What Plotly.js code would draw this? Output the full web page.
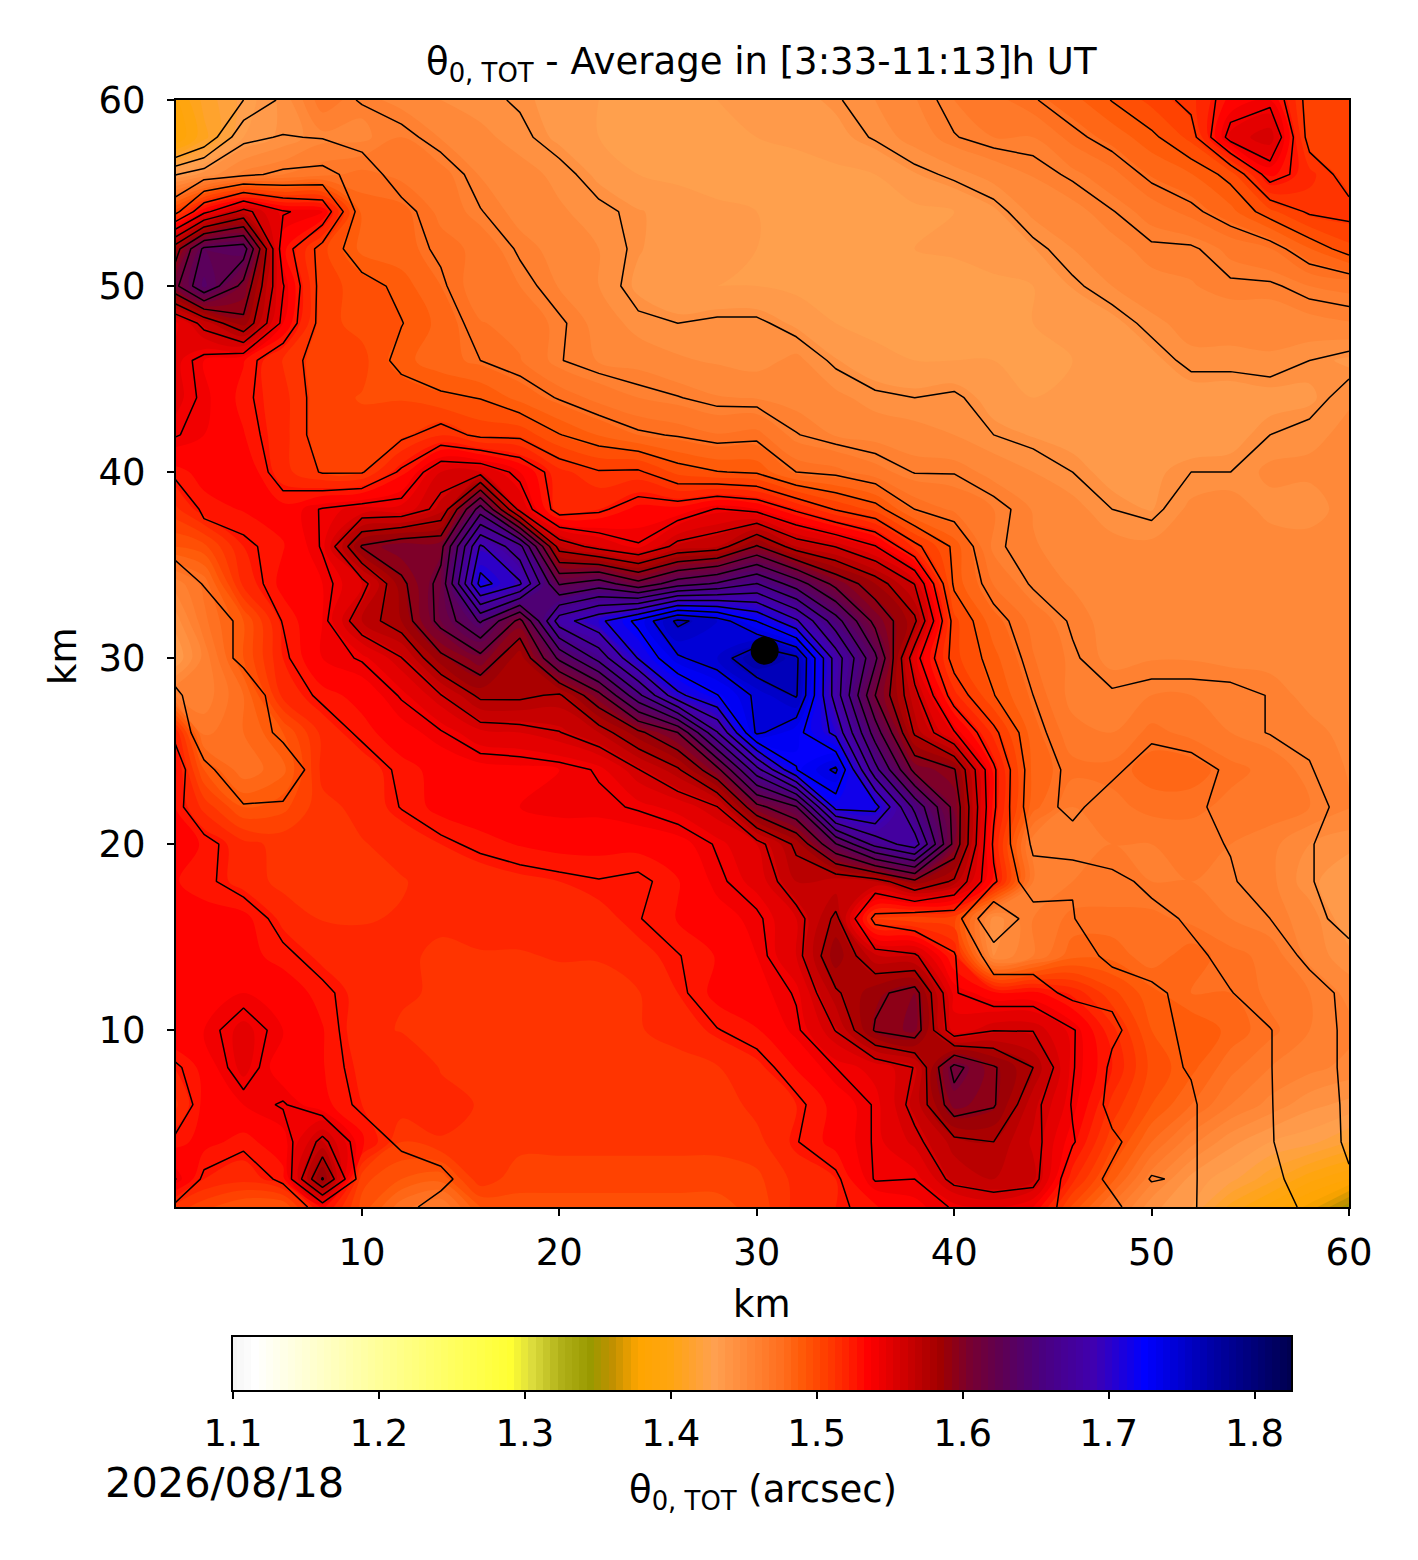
<!DOCTYPE html>
<html><head><meta charset="utf-8">
<script src="https://cdn.plot.ly/plotly-3.0.1.min.js"></script>
<style>html,body{margin:0;padding:0;background:#fff}</style></head>
<body><div id="chart" style="width:1418px;height:1560px"></div>
<script>
const xKm = [0.5,2,4,6,8,10,12,14,16,18,20,22,24,26,28,30,32,34,36,38,40,42,44,46,48,50,52,54,56,58,60];
const yKm = [60,58,56,54,52,50,48,46,44,42,40,38,36,34,32,30,28,26,24,22,20,18,16,14,12,10,8,6,4,2,0.5];
const contourStart = 1.44, contourStep = 0.0165, contourEnd = 1.78;
const seeingGrid = [
[1.42,1.425,1.44,1.46,1.465,1.455,1.45,1.445,1.442,1.439, 1.435,1.43,1.425,1.43,1.43,1.432,1.435,1.439,1.445,1.452, 1.46,1.465,1.472,1.48,1.49,1.5,1.51,1.53,1.535,1.50, 1.505],
[1.40,1.425,1.47,1.474,1.472,1.467,1.46,1.452,1.447,1.442, 1.436,1.43,1.428,1.427,1.428,1.43,1.432,1.435,1.441,1.448, 1.456,1.46,1.46,1.47,1.478,1.487,1.50,1.545,1.555,1.50, 1.50],
[1.472,1.482,1.487,1.492,1.495,1.482,1.465,1.463,1.452,1.448, 1.443,1.436,1.43,1.428,1.426,1.425,1.426,1.428,1.43,1.437, 1.442,1.448,1.453,1.458,1.465,1.476,1.482,1.493,1.53,1.515, 1.50],
[1.50,1.535,1.56,1.54,1.535,1.48,1.478,1.465,1.457,1.45, 1.446,1.442,1.438,1.435,1.432,1.43,1.428,1.427,1.427,1.428, 1.43,1.436,1.447,1.45,1.456,1.463,1.47,1.48,1.495,1.508, 1.51],
[1.58,1.625,1.63,1.53,1.50,1.48,1.478,1.471,1.465,1.455, 1.45,1.445,1.438,1.434,1.431,1.43,1.428,1.427,1.428,1.43, 1.431,1.434,1.437,1.445,1.45,1.455,1.455,1.462,1.467,1.482, 1.495],
[1.60,1.635,1.60,1.54,1.50,1.495,1.486,1.475,1.462,1.46, 1.452,1.445,1.436,1.43,1.43,1.43,1.428,1.425,1.425,1.425, 1.427,1.428,1.43,1.438,1.445,1.45,1.452,1.455,1.455,1.46, 1.462],
[1.54,1.56,1.585,1.535,1.50,1.495,1.49,1.48,1.468,1.465, 1.458,1.45,1.442,1.44,1.442,1.442,1.436,1.43,1.428,1.428, 1.427,1.428,1.43,1.432,1.435,1.443,1.448,1.448,1.448,1.45, 1.452],
[1.545,1.535,1.528,1.512,1.50,1.50,1.485,1.478,1.473,1.468, 1.457,1.452,1.45,1.446,1.444,1.442,1.447,1.438,1.432,1.43, 1.43,1.43,1.43,1.43,1.432,1.435,1.443,1.443,1.444,1.44, 1.436],
[1.545,1.537,1.525,1.515,1.50,1.497,1.497,1.492,1.489,1.48, 1.472,1.465,1.46,1.457,1.453,1.452,1.45,1.447,1.442,1.44, 1.442,1.434,1.43,1.432,1.433,1.433,1.433,1.433,1.435,1.436, 1.444],
[1.54,1.535,1.528,1.515,1.50,1.50,1.503,1.512,1.503,1.503, 1.49,1.482,1.475,1.472,1.468,1.47,1.457,1.452,1.45,1.448, 1.445,1.44,1.437,1.435,1.433,1.433,1.433,1.435,1.44,1.443, 1.447],
[1.525,1.53,1.535,1.515,1.505,1.505,1.525,1.55,1.55,1.535, 1.515,1.507,1.508,1.495,1.49,1.488,1.473,1.47,1.463,1.456, 1.456,1.45,1.445,1.44,1.435,1.436,1.44,1.44,1.447,1.447, 1.45],
[1.51,1.525,1.528,1.53,1.54,1.545,1.545,1.56,1.63,1.55, 1.515,1.52,1.53,1.53,1.54,1.535,1.52,1.505,1.495,1.473, 1.466,1.46,1.452,1.448,1.44,1.437,1.447,1.45,1.442,1.44, 1.45],
[1.512,1.515,1.52,1.527,1.54,1.59,1.60,1.60,1.69,1.66, 1.565,1.55,1.54,1.56,1.565,1.59,1.565,1.555,1.54,1.51, 1.487,1.458,1.453,1.45,1.448,1.447,1.45,1.45,1.45,1.45, 1.452],
[1.495,1.507,1.515,1.53,1.535,1.55,1.585,1.61,1.71,1.69, 1.62,1.63,1.61,1.63,1.64,1.655,1.63,1.60,1.58,1.555, 1.487,1.467,1.455,1.452,1.45,1.45,1.45,1.45,1.45,1.45, 1.452],
[1.495,1.495,1.51,1.523,1.535,1.565,1.58,1.61,1.64,1.60, 1.68,1.70,1.725,1.757,1.745,1.72,1.69,1.645,1.60,1.575, 1.50,1.478,1.465,1.455,1.45,1.45,1.45,1.45,1.45,1.45, 1.45],
[1.495,1.495,1.51,1.52,1.535,1.54,1.555,1.585,1.60,1.575, 1.625,1.66,1.705,1.735,1.745,1.768,1.757,1.68,1.625,1.545, 1.50,1.485,1.468,1.458,1.45,1.452,1.452,1.45,1.45,1.45, 1.45],
[1.51,1.495,1.495,1.515,1.525,1.53,1.54,1.555,1.575,1.575, 1.57,1.60,1.65,1.70,1.72,1.74,1.755,1.68,1.605,1.56, 1.515,1.49,1.473,1.457,1.458,1.46,1.46,1.46,1.456,1.45, 1.447],
[1.52,1.495,1.495,1.51,1.515,1.525,1.532,1.538,1.548,1.55, 1.555,1.565,1.585,1.605,1.67,1.74,1.725,1.70,1.63,1.57, 1.54,1.51,1.478,1.463,1.46,1.47,1.465,1.46,1.456,1.455, 1.45],
[1.53,1.51,1.495,1.495,1.515,1.515,1.525,1.53,1.532,1.533, 1.535,1.54,1.555,1.57,1.60,1.665,1.72,1.74,1.66,1.60, 1.59,1.525,1.48,1.47,1.47,1.48,1.48,1.47,1.465,1.457, 1.452],
[1.528,1.51,1.507,1.508,1.51,1.515,1.523,1.53,1.532,1.535, 1.537,1.537,1.54,1.545,1.555,1.60,1.62,1.71,1.71,1.65, 1.60,1.525,1.478,1.47,1.48,1.482,1.475,1.47,1.465,1.46, 1.453],
[1.53,1.527,1.515,1.51,1.51,1.512,1.515,1.52,1.525,1.528, 1.53,1.53,1.53,1.532,1.54,1.55,1.575,1.62,1.66,1.68, 1.60,1.52,1.487,1.478,1.478,1.478,1.478,1.472,1.462,1.458, 1.445],
[1.528,1.525,1.517,1.51,1.51,1.512,1.512,1.515,1.515,1.518, 1.52,1.522,1.52,1.527,1.537,1.545,1.565,1.56,1.565,1.585, 1.57,1.525,1.495,1.505,1.495,1.485,1.48,1.475,1.463,1.458, 1.445],
[1.53,1.53,1.53,1.518,1.512,1.512,1.513,1.513,1.515,1.515, 1.517,1.518,1.522,1.528,1.532,1.537,1.55,1.575,1.535,1.53, 1.53,1.49,1.515,1.507,1.49,1.495,1.487,1.477,1.473,1.462, 1.45],
[1.532,1.533,1.53,1.525,1.518,1.515,1.513,1.512,1.512,1.512, 1.513,1.513,1.518,1.522,1.528,1.535,1.55,1.585,1.56,1.557, 1.54,1.515,1.515,1.518,1.50,1.497,1.493,1.485,1.48,1.47, 1.462],
[1.53,1.535,1.535,1.532,1.525,1.517,1.513,1.512,1.51,1.508, 1.51,1.51,1.512,1.52,1.53,1.532,1.54,1.57,1.585,1.595, 1.54,1.53,1.53,1.518,1.52,1.51,1.50,1.49,1.483,1.478, 1.47],
[1.535,1.535,1.545,1.535,1.528,1.515,1.512,1.51,1.508,1.508, 1.51,1.51,1.512,1.515,1.522,1.527,1.537,1.556,1.59,1.597, 1.545,1.555,1.555,1.54,1.525,1.515,1.50,1.495,1.49,1.48, 1.47],
[1.52,1.53,1.545,1.53,1.528,1.518,1.52,1.512,1.51,1.508, 1.508,1.508,1.51,1.51,1.512,1.518,1.528,1.539,1.545,1.556, 1.61,1.59,1.572,1.54,1.52,1.51,1.505,1.50,1.49,1.48, 1.47],
[1.51,1.53,1.535,1.54,1.53,1.52,1.517,1.515,1.512,1.51, 1.508,1.508,1.508,1.508,1.508,1.515,1.52,1.53,1.54,1.56, 1.598,1.59,1.56,1.538,1.518,1.51,1.508,1.495,1.49,1.483, 1.47],
[1.525,1.53,1.525,1.532,1.56,1.53,1.52,1.512,1.51,1.508, 1.508,1.508,1.508,1.508,1.508,1.51,1.522,1.53,1.54,1.552, 1.568,1.572,1.56,1.54,1.525,1.515,1.508,1.495,1.49,1.485, 1.47],
[1.54,1.52,1.515,1.525,1.59,1.53,1.53,1.528,1.51,1.508, 1.508,1.508,1.508,1.508,1.508,1.51,1.515,1.52,1.54,1.539, 1.56,1.565,1.56,1.53,1.52,1.505,1.508,1.495,1.492,1.485, 1.475],
[1.52,1.52,1.51,1.51,1.53,1.525,1.528,1.515,1.51,1.508, 1.508,1.508,1.508,1.508,1.508,1.51,1.515,1.52,1.527,1.533, 1.54,1.545,1.545,1.535,1.525,1.515,1.507,1.50,1.495,1.487, 1.48]
];
const fillY = [0.5,0.5,0.5,0.5,0.5,0.5,0.5,0.5,0.5,0.5,0.5,0.5,0.5,0.5,0.5,0.5,0.5,0.5,0.5,0.5,0.5,0.5,0.5,0.5];
const fillX = [2,4,6,10,12,14,16,18,20,22,24,26,28,30,44,46,48,50,52,54,56,58,60,0.5];
const fillV = [1.50,1.49,1.49,1.495,1.47,1.46,1.49,1.495,1.495,1.495,1.495,1.495,1.495,1.50,1.535,1.495,1.465,1.44,1.43,1.405,1.39,1.375,1.35,1.51];
const eastFillX = [44,46,48,50,52,54,56,58,60];
const eastFillRows = [
 [2,  [1.56,1.515,1.485,1.455,1.435,1.425,1.41,1.395,1.385]],
 [4,  [1.556,1.53,1.50,1.475,1.455,1.44,1.43,1.425,1.415]],
 [6,  [1.56,1.538,1.51,1.49,1.475,1.46,1.45,1.44,1.435]],
 [8,  [1.572,1.54,1.52,1.495,1.485,1.47,1.46,1.455,1.45]],
 [10, [1.555,1.54,1.515,1.49,1.49,1.48,1.47,1.46,1.455]],
 [12, [1.53,1.518,1.50,1.485,1.475,1.475,1.465,1.46,1.45]],
 [14, [1.46,1.48,1.48,1.47,1.48,1.47,1.465,1.45,1.44]],
 [16, [1.46,1.47,1.47,1.47,1.465,1.46,1.455,1.45,1.43]],
 [18, [1.46,1.46,1.462,1.46,1.46,1.458,1.455,1.44,1.43]],
 [20, [1.455,1.455,1.46,1.46,1.462,1.46,1.455,1.445,1.44]],
 [22, [1.478,1.46,1.465,1.47,1.47,1.465,1.465,1.46,1.453]]
];
const westFill = [[60,0.5,1.39],[60,2,1.41],[60,4,1.425],[60,6,1.44],[58,0.5,1.385],[58,2,1.405],[58,4,1.43],[58,6,1.44],[58,8,1.45],[58,10,1.45],
 [56,0.5,1.43],[56,2,1.44],[56,4,1.455],[56,6,1.46],[56,8,1.465],[56,10,1.47],
 [36,0.5,1.49],[36,2,1.495],[34,0.5,1.455],[34,2,1.47],[32,0.5,1.44],[32,2,1.465],[32,4,1.49],[30,0.5,1.43],[30,2,1.455],[30,4,1.49],
 [28,0.5,1.46],[28,2,1.455],[28,4,1.475],[26,2,1.465],[26,4,1.475],[26,6,1.49],[24,2,1.49],[24,4,1.47],[24,6,1.48],[22,4,1.49],[22,6,1.495],
 [14,40,1.52],[14,42,1.445],[16,36,1.505],[16,38,1.50],[16,40,1.50],[16,42,1.44],
 [2,12,1.49],[2,14,1.485],[2,10,1.50],[4,12,1.505],[2,18,1.50],[2,20,1.50],[2,22,1.50],[2,24,1.50],[2,26,1.50],[2,28,1.50],[2,30,1.503]];

const colorValues = [1.10,1.115,1.20,1.29,1.305,1.325,1.345,1.36,1.378,1.40,1.43,1.445,1.46,1.475,1.49,1.505,1.52,1.535,1.56,1.585,1.605,1.625,1.655,1.69,1.725,1.77,1.825];
const colorHexes = ['#f4f4f4','#ffffff','#ffff99','#ffff33','#dcdc3c','#b0b018','#999900','#c09000','#ffa500','#ffa510','#ffa050','#ff9040','#ff8030','#ff7020','#ff5a08','#ff4000','#ff2400','#ff0000','#d00000','#a00000','#780030','#600050','#4a0080','#4000b0','#0000ff','#0000a8','#000050'];
const cbMin = 1.1, cbMax = 1.825, cbStep = 0.005;
const colorTicks = [1.1,1.2,1.3,1.4,1.5,1.6,1.7,1.8];
const markerX = [30.4], markerY = [30.4];

const fillGrid = seeingGrid.map(r => r.slice());
const setFill = (y, x, v) => { const i = yKm.indexOf(y), j = xKm.indexOf(x); if (i >= 0 && j >= 0) fillGrid[i][j] = v; };
fillY.forEach((y, k) => setFill(y, fillX[k], fillV[k]));
eastFillRows.forEach(([y, vals]) => vals.forEach((v, k) => setFill(y, eastFillX[k], v)));
westFill.forEach(([y, x, v]) => setFill(y, x, v));

const colorscale = colorValues.map((v, i) => [(v - cbMin) / (cbMax - cbMin), colorHexes[i]]);
const barLevels = [];
for (let i = 0; cbMin + i * cbStep <= cbMax + 1e-9; i++) barLevels.push(+(cbMin + i * cbStep).toFixed(4));
const W = 1418, H = 1560, L = 176, R = 1349, T = 100, B = 1207;
const font = 'DejaVu Sans, sans-serif', fs = 37;
const tf = {family:font,size:fs,color:'#000'};

const traces = [
 {type:'contour', x:xKm, y:yKm, z:fillGrid, zmin:cbMin, zmax:cbMax, zauto:false, colorscale, showscale:false,
  autocontour:false, contours:{coloring:'fill', showlines:false, start:cbMin, end:cbMax, size:0.0075},
  line:{width:0}, hoverinfo:'skip'},
 {type:'contour', x:xKm, y:yKm, z:seeingGrid, autocontour:false, showscale:false,
  contours:{coloring:'none', start:contourStart, end:contourEnd, size:contourStep},
  line:{color:'#000', width:1.5, smoothing:0}, hoverinfo:'skip'},
 {type:'scatter', mode:'markers', x:markerX, y:markerY, marker:{color:'#000', size:28}, showlegend:false, hoverinfo:'skip'},
 {type:'heatmap', xaxis:'x2', yaxis:'y2', x:barLevels, y:[0,1], z:[barLevels,barLevels], zmin:cbMin, zmax:cbMax, zauto:false, colorscale, showscale:false, hoverinfo:'skip'}
];
const axisBase = {showline:true, mirror:true, linecolor:'#000', linewidth:2, ticks:'outside', ticklen:7, tickwidth:2, tickcolor:'#000',
 showgrid:false, zeroline:false, tickfont:tf, tickvals:[10,20,30,40,50,60]};
const layout = {
 width:W, height:H, margin:{l:0,r:0,t:0,b:0}, paper_bgcolor:'#fff', plot_bgcolor:'#fff', showlegend:false,
 font:{family:font,color:'#000'},
 xaxis:Object.assign({}, axisBase, {domain:[L/W,R/W], range:[0.58,60], anchor:'y', ticklabelstandoff:5}),
 yaxis:Object.assign({}, axisBase, {domain:[1-B/H,1-T/H], range:[0.5,60], anchor:'x', ticklabelstandoff:14}),
 xaxis2:{domain:[233/W,1291/W], range:[cbMin,cbMax], anchor:'y2', showline:true, mirror:true, linecolor:'#000', linewidth:2, ticks:'outside', ticklen:7, tickwidth:2, tickcolor:'#000', showgrid:false, zeroline:false, tickfont:tf, tickvals:colorTicks, ticktext:colorTicks.map(v=>v.toFixed(1)), ticklabelstandoff:3},
 yaxis2:{domain:[1-1390/H,1-1337/H], range:[0,1], anchor:'x2', showline:true, mirror:true, linecolor:'#000', linewidth:2, ticks:'', showticklabels:false, showgrid:false, zeroline:false},
 annotations:[
  {xref:'paper', yref:'paper', x:(423+1100)/2/W, y:1-64/H, xanchor:'center', yanchor:'middle', showarrow:false,
   text:'θ<sub>0, TOT</sub> - Average in [3:33-11:13]h UT', font:tf},
  {xref:'paper', yref:'paper', x:103/W, y:1-1482/H, xanchor:'left', yanchor:'middle', showarrow:false,
   text:'2026/08/18', font:{family:font,size:41.5,color:'#000'}},
  {xref:'paper', yref:'paper', x:763/W, y:1-1492/H, xanchor:'center', yanchor:'middle', showarrow:false,
   text:'θ<sub>0, TOT</sub> (arcsec)', font:tf},
  {xref:'paper', yref:'paper', x:761/W, y:1-1304/H, xanchor:'center', yanchor:'middle', showarrow:false,
   text:'km', font:tf},
  {xref:'paper', yref:'paper', x:63/W, y:1-657/H, xanchor:'center', yanchor:'middle', showarrow:false, textangle:-90,
   text:'km', font:tf}
 ]
};
Plotly.newPlot('chart', traces, layout, {displayModeBar:false, staticPlot:true});
</script></body></html>
